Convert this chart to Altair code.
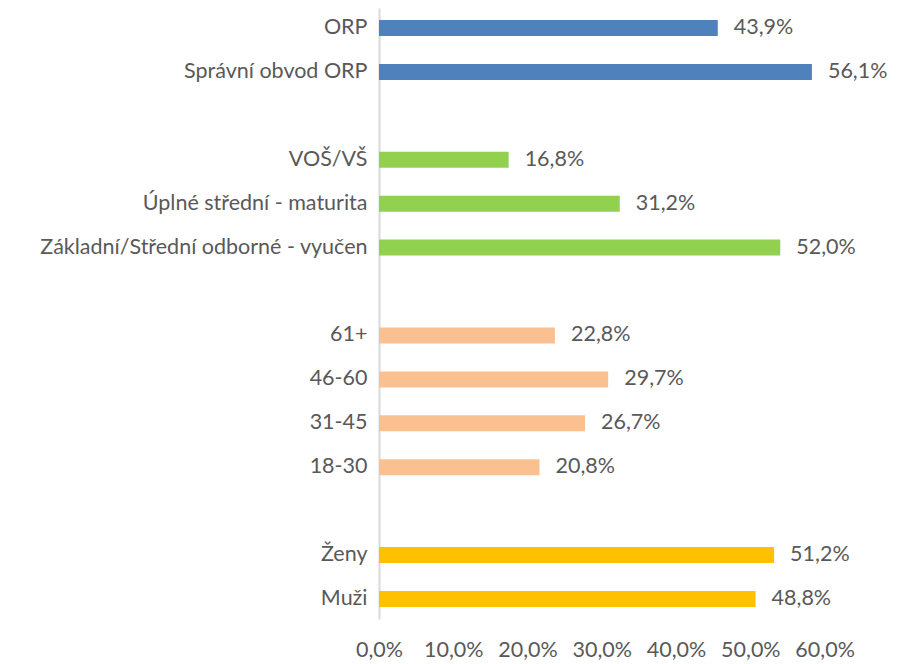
import altair as alt
import pandas as pd

categories = ["ORP", "Správní obvod ORP",
              "VOŠ/VŠ", "Úplné střední - maturita", "Základní/Střední odborné - vyučen",
              "61+", "46-60", "31-45", "18-30",
              "Ženy", "Muži"]
values = [43.9, 56.1, 16.8, 31.2, 52.0, 22.8, 29.7, 26.7, 20.8, 51.2, 48.8]
groups = ["g1", "g1", "g2", "g2", "g2", "g3", "g3", "g3", "g3", "g4", "g4"]
group_colors = {"g1": "#4f81bd", "g2": "#92d050", "g3": "#fac090", "g4": "#ffc000"}
x_ticks = [0, 10, 20, 30, 40, 50, 60]

order = ["ORP", "Správní obvod ORP", " ",
         "VOŠ/VŠ", "Úplné střední - maturita", "Základní/Střední odborné - vyučen", "  ",
         "61+", "46-60", "31-45", "18-30", "   ",
         "Ženy", "Muži"]

df = pd.DataFrame({"cat": categories, "val": values, "grp": groups})
df["label"] = df["val"].map(lambda v: f"{v:.1f}%".replace(".", ","))

FONT = "Lato"
FS = 21.5
GREY = "#595959"

y = alt.Y("cat:N", sort=order,
          scale=alt.Scale(domain=order, paddingInner=0.636, paddingOuter=0.273),
          axis=alt.Axis(title=None, ticks=False, domainColor="#d9d9d9", domainWidth=2,
                        labelFont=FONT, labelFontSize=FS, labelColor=GREY, labelPadding=12,
                        labelLimit=400))
x = alt.X("val:Q", scale=alt.Scale(domain=[0, 60], nice=False),
          axis=alt.Axis(title=None, values=x_ticks, grid=False,
                        ticks=False, domain=False, labelFont=FONT, labelFontSize=FS,
                        labelColor=GREY, labelPadding=20, labelFlush=False,
                        labelOverlap=False,
                        labelOffset={"expr": "-0.29*datum.value"},
                        labelExpr="replace(format(datum.value, '.1f'), '.', ',') + '%'"))

bars = alt.Chart(df).mark_bar().encode(
    x=x, y=y,
    color=alt.Color("grp:N", scale=alt.Scale(domain=list(group_colors.keys()),
                                             range=list(group_colors.values())), legend=None))
text = alt.Chart(df).mark_text(align="left", baseline="middle", dx=16, font=FONT,
                               fontSize=FS, color=GREY).encode(
    x="val:Q", y=alt.Y("cat:N", sort=order), text="label:N")

chart = (bars + text).properties(
    width=463, height=611,
    autosize=alt.AutoSizeParams(type="none"),
    padding={"left": 371, "top": 0, "right": 50, "bottom": 45},
).configure(background="white").configure_view(stroke=None)

chart.save("out.html", embed_options={"renderer": "svg", "actions": False})
